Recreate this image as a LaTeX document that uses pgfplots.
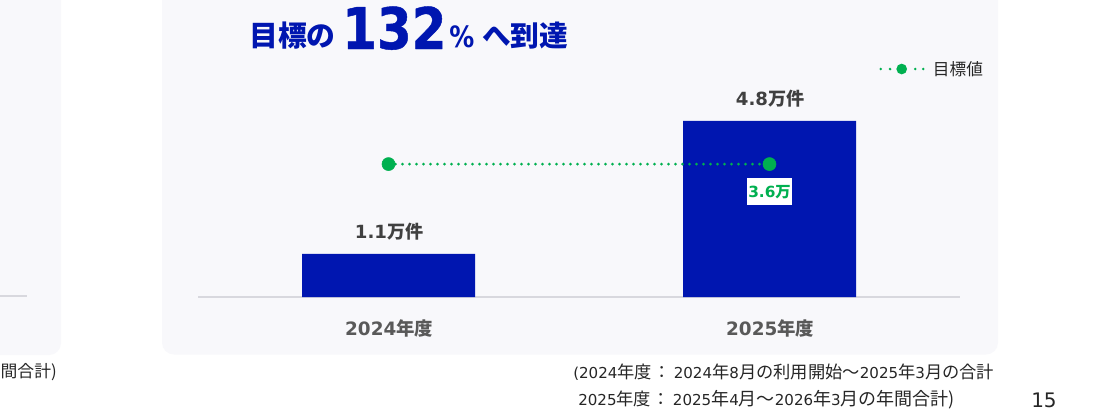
\documentclass[border=0pt]{standalone}
\usepackage{fontspec}
\usepackage{pgfplots}
\pgfplotsset{compat=1.18}
\setmainfont{DejaVu Sans}
\newfontfamily\cjk{Noto Sans CJK JP}
\newfontfamily\djc[FakeStretch=0.87,BoldFont={DejaVu Sans Bold},BoldFeatures={FakeStretch=0.87,FakeBold=0.8}]{DejaVu Sans}
\newfontfamily\djp[FakeStretch=0.85]{DejaVu Sans}
\newcommand\fs[1]{\fontsize{#1}{#1}\selectfont}
\newcommand\J[1]{{\cjk #1}}
\newcommand\K[1]{{\cjk\fs{12.95pt}#1}}
\newcommand\Q[1]{{\cjk\fs{13.5pt}#1}}
\newcommand\C{\K{\hspace{1.2pt}：\hspace{2.2pt}}}
\definecolor{barblue}{RGB}{0,22,176}
\definecolor{tgreen}{RGB}{0,176,80}
\definecolor{cardbg}{RGB}{248,248,251}
\definecolor{lbl}{RGB}{64,64,64}
\definecolor{tick}{RGB}{89,89,89}
\definecolor{axisc}{RGB}{216,216,222}
\begin{document}
\begin{tikzpicture}[x=0.75pt,y=-0.75pt]
\path[use as bounding box] (0,0) rectangle (1111,411);
\clip (0,0) rectangle (1111,411);
\fill[white] (0,0) rectangle (1111,411);
% cards
\fill[cardbg,rounded corners=9pt] (-40,-40) rectangle (61,355);
\fill[cardbg,rounded corners=9pt] (162,-40) rectangle (998,354.5);
\draw[axisc,line width=0.9pt] (-5,296) -- (27,296);
% title
\node[anchor=base west,inner sep=0,text=barblue,font=\fs{21.6pt}\cjk\bfseries] at (249,46.5) {目標の};
\node[anchor=base west,inner sep=0,text=barblue,font=\fs{43pt}\djc\bfseries] at (342,49) {132};
\node[anchor=base west,inner sep=0,text=barblue,font=\fs{22pt}\djp\bfseries] at (449,47) {\%};
\node[anchor=base west,inner sep=0,text=barblue,font=\fs{21.5pt}\cjk\bfseries] at (482,46.5) {へ到達};
% footnotes
\node[anchor=base east,inner sep=0,text=black!85,font=\fs{12.6pt}\cjk] at (57,377) {年間合計)};
\node[anchor=base west,inner sep=0,text=black!85,font=\fs{11.3pt}] at (573,378) {(2024\K{年度}\C 2024\K{年}8\K{月の利用開始～}2025\K{年}3\K{月の合計}};
\node[anchor=base west,inner sep=0,text=black!85,font=\fs{11.3pt}] at (578,405) {2025\K{年度}\C 2025\Q{年}4\Q{月～}2026\Q{年}3\Q{月の年間合計)}};
\node[anchor=base west,inner sep=0,text=black!85,font=\fs{15pt}] at (1031,407) {15};
% chart
\begin{axis}[
  at={(148.5pt,-222.75pt)},anchor=south west,
  width=571.5pt,height=185.25pt,scale only axis,
  xmin=-0.5,xmax=1.5,ymin=0,ymax=6.87,
  y filter/.expression={y+0.097},
  axis x line=bottom,axis y line=none,
  x axis line style={-,draw=axisc,line width=1.4pt},
  xtick=data,xticklabels={2024\J{年度},2025\J{年度}},
  major tick length=0pt,
  xticklabel style={font=\fs{13.8pt}\bfseries,text=tick,yshift=-13.5pt,xshift=0.5pt},
  clip=false,
  legend style={at={(1.034,0.923)},anchor=east,draw=none,fill=none,inner sep=0pt,
    font=\fs{12.5pt}\cjk,text=black!85},
  legend cell align=left,
]
\addplot[ybar,bar width=129.75pt,bar shift=0pt,fill=barblue,draw=none,
  point meta=explicit symbolic,
  nodes near coords={\pgfplotspointmeta\J{万件}},
  nodes near coords style={font=\fs{13.6pt}\bfseries,text=lbl,anchor=south,yshift=10.2pt,xshift=0.5pt,inner sep=0pt},
  forget plot]
  coordinates {(0,1.1) [1.1] (1,4.8) [4.8]};
\addplot[tgreen,line width=2.3pt,line cap=round,dash pattern=on 0pt off 5.25pt,
  legend image code/.code={
    \draw[tgreen,line width=2.1pt,line cap=round,dash pattern=on 0pt off 7pt] (0pt,0pt) -- (8pt,0pt);
    \draw[tgreen,line width=2.1pt,line cap=round,dash pattern=on 0pt off 6pt] (25.9pt,0pt) -- (32.5pt,0pt);
    \node[circle,anchor=center,solid,fill=tgreen,draw=none,inner sep=0pt,minimum size=8pt] at (15.7pt,0pt) {};
    \path (36pt,0pt);
  }]
  coordinates {(0,3.6) (1,3.6)}
  node[pos=1,anchor=north,yshift=-9.5pt,fill=white,inner sep=0pt,minimum width=33.75pt,minimum height=20.25pt,text=tgreen,font=\fs{11.5pt}\bfseries] {\raisebox{-1.2pt}{3.6\J{万}}};
\addplot[only marks,mark=*,mark size=4.9pt,tgreen,mark options={draw=tgreen,fill=tgreen,solid},forget plot]
  coordinates {(0,3.6) (1,3.6)};
\legend{目標値}
\end{axis}
\end{tikzpicture}
\end{document}
